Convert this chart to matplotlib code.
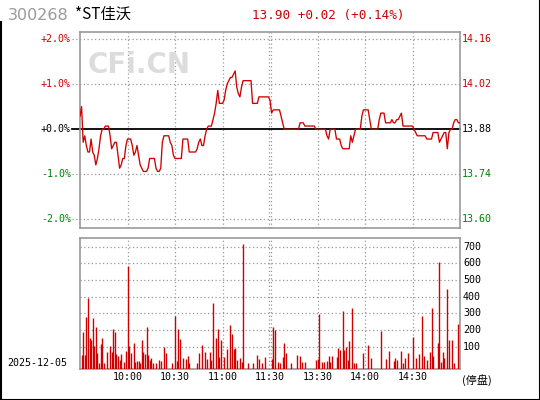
import numpy as np
import matplotlib.pyplot as plt
from matplotlib.lines import Line2D

# 分时数据 (每分钟价格, 9:30 起 241 个点)
prev_close = 13.88
prices = [
    13.92, 13.95, 13.84, 13.86, 13.83, 13.81, 13.81, 13.85, 13.81, 13.80,
    13.77, 13.79, 13.82, 13.86, 13.88, 13.88, 13.89, 13.89, 13.89, 13.86,
    13.82, 13.83, 13.84, 13.84, 13.80, 13.76, 13.77, 13.79, 13.79, 13.83,
    13.85, 13.85, 13.85, 13.83, 13.80, 13.81, 13.83, 13.80, 13.77, 13.76,
    13.75, 13.75, 13.75, 13.76, 13.79, 13.79, 13.79, 13.79, 13.76, 13.75,
    13.75, 13.76, 13.84, 13.86, 13.86, 13.86, 13.86, 13.84, 13.83, 13.80,
    13.79, 13.79, 13.79, 13.79, 13.79, 13.85, 13.85, 13.85, 13.85, 13.81,
    13.81, 13.81, 13.81, 13.81, 13.82, 13.84, 13.85, 13.83, 13.83, 13.86,
    13.88, 13.89, 13.89, 13.89, 13.91, 13.93, 13.96, 14.00, 13.96, 13.96,
    13.96, 13.97, 14.00, 14.02, 14.03, 14.04, 14.04, 14.05, 14.06, 14.01,
    13.99, 13.98, 14.01, 14.03, 14.03, 14.03, 14.03, 14.03, 14.03, 13.96,
    13.96, 13.96, 13.96, 13.98, 13.98, 13.98, 13.98, 13.98, 13.98, 13.98,
    13.97, 13.93, 13.94, 13.94, 13.94, 13.94, 13.94, 13.92, 13.90, 13.88,
    13.88, 13.88, 13.88, 13.88, 13.88, 13.88, 13.88, 13.88, 13.88, 13.90,
    13.90, 13.90, 13.89, 13.89, 13.89, 13.89, 13.89, 13.89, 13.89, 13.88,
    13.88, 13.88, 13.88, 13.88, 13.88, 13.88, 13.86, 13.85, 13.88, 13.88,
    13.88, 13.88, 13.85, 13.85, 13.85, 13.83, 13.82, 13.82, 13.82, 13.82,
    13.82, 13.86, 13.84, 13.86, 13.88, 13.88, 13.88, 13.88, 13.92, 13.94,
    13.94, 13.94, 13.94, 13.91, 13.88, 13.88, 13.88, 13.88, 13.88, 13.91,
    13.93, 13.93, 13.93, 13.90, 13.90, 13.90, 13.90, 13.91, 13.90, 13.90,
    13.91, 13.91, 13.92, 13.93, 13.89, 13.89, 13.89, 13.89, 13.89, 13.89,
    13.89, 13.88, 13.87, 13.86, 13.86, 13.86, 13.86, 13.86, 13.86, 13.85,
    13.85, 13.85, 13.85, 13.87, 13.87, 13.87, 13.87, 13.84, 13.85, 13.86,
    13.87, 13.87, 13.82, 13.87, 13.88, 13.88, 13.90, 13.91, 13.91, 13.90,
    13.90,
]

# 成交量 (分钟, 手)
vol_minutes = [1, 2, 3, 4, 5, 6, 7, 8, 9, 10, 11, 12, 13, 14, 15, 17, 19, 20, 21, 22,
               23, 24, 25, 26, 28, 29, 30, 31, 32, 34, 35, 36, 37, 38, 39, 40, 41, 42, 43, 44,
               45, 46, 48, 50, 51, 53, 54, 58, 60, 61, 62, 63, 65, 67, 68, 69, 74, 75, 77, 79,
               80, 82, 83, 84, 86, 87, 88, 89, 91, 93, 95, 96, 97, 98, 99, 101, 102, 103, 106, 109,
               112, 113, 115, 117, 121, 122, 123, 125, 126, 128, 129, 130, 133, 137, 139, 140, 142, 149, 150, 151,
               153, 154, 156, 157, 158, 159, 162, 163, 164, 166, 167, 168, 169, 170, 172, 173, 174, 179, 182, 184,
               190, 193, 195, 198, 199, 200, 203, 204, 205, 207, 210, 212, 214, 216, 217, 219, 221, 222, 223, 226,
               227, 228, 229, 230, 232, 233, 235, 236, 239]
vol_values = [50, 188, 50, 278, 392, 152, 140, 272, 104, 218, 62, 2, 116, 152, 2, 68, 104, 68, 206, 188,
              56, 44, 20, 56, 8, 74, 584, 104, 62, 122, 8, 14, 14, 2, 140, 68, 56, 218, 50, 20,
              32, 2, 2, 20, 14, 98, 62, 2, 284, 14, 206, 146, 32, 26, 44, 2, 2, 62, 110, 68,
              26, 68, 20, 362, 152, 206, 38, 140, 38, 86, 230, 176, 86, 92, 20, 32, 8, 716, 2, 2,
              50, 26, 2, 38, 26, 218, 200, 8, 2, 38, 122, 62, 2, 50, 44, 8, 8, 20, 26, 296,
              8, 8, 14, 44, 8, 44, 38, 92, 80, 314, 80, 98, 20, 134, 332, 2, 2, 62, 110, 32,
              194, 26, 74, 14, 32, 20, 74, 2, 32, 62, 158, 32, 56, 284, 44, 20, 68, 332, 44, 122,
              608, 8, 68, 32, 446, 140, 140, 2, 236]

pct_ticks = [2.0, 1.0, 0.0, -1.0, -2.0]
pct_labels = ['+2.0%', '+1.0%', '+0.0%', '-1.0%', '-2.0%']
price_labels = ['14.16', '14.02', '13.88', '13.74', '13.60']
label_colors = ['#cc0000', '#cc0000', 'black', '#008000', '#008000']
time_ticks = [30, 60, 90, 120, 150, 180, 210]
time_labels = ['10:00', '10:30', '11:00', '11:30', '13:30', '14:00', '14:30']
vol_ticks = [100, 200, 300, 400, 500, 600, 700]

red = '#d00000'
gray = '#999999'
mono = 'DejaVu Sans Mono'
cjk = ['Noto Sans CJK SC', 'DejaVu Sans']

W, H = 540, 400
fig = plt.figure(figsize=(W / 100, H / 100), dpi=100)


def fx(x):
    return x / W


def fy(y):
    return 1 - y / H


grid_x = [30, 60, 90, 119.5, 120.7, 150, 180, 210]

# 价格面板
ax = fig.add_axes([fx(80), fy(228), 380 / W, 196 / H])
minutes = np.arange(len(prices))
pct = (np.array(prices) - prev_close) / prev_close * 100
ax.set_xlim(0, 240)
ax.set_ylim(-2.193, 2.162)
for v in [2.0, 1.0, -1.0, -2.0]:
    ax.plot([-8 / 380, 1], [v, v], transform=ax.get_yaxis_transform(), clip_on=False,
            color=gray, lw=0.9, ls=(0, (1, 2)), zorder=1)
ax.plot([-8 / 380, 1], [0, 0], transform=ax.get_yaxis_transform(), clip_on=False,
        color='black', lw=1.3, zorder=2)
for t in grid_x:
    ax.axvline(t, color=gray, lw=0.9, ls=(0, (1, 2)), zorder=1)
ax.plot(minutes, pct, color=red, lw=0.95, zorder=3)
fig.text(fx(139), fy(65), 'CFi.CN', fontsize=20, fontweight='bold', color='#dcdcdc',
         ha='center', va='center', zorder=0)
ax.set_xticks([])
ax.set_yticks([])
for s in ax.spines.values():
    s.set_color(gray)
    s.set_linewidth(1.2)
for v, lab, c in zip(pct_ticks, pct_labels, label_colors):
    ax.text(-9 / 380, v, lab, transform=ax.get_yaxis_transform(), ha='right', va='center',
            color=c, fontsize=7.2, family=mono)
for v, lab, c in zip(pct_ticks, price_labels, label_colors):
    ax.text(1 + 2 / 380, v, lab, transform=ax.get_yaxis_transform(), ha='left', va='center',
            color=c, fontsize=7.2, family=mono)

# 成交量面板
ax2 = fig.add_axes([fx(80), fy(369.3), 380 / W, 131 / H])
ax2.set_xlim(0, 240)
ax2.set_ylim(-36, 750)
for v in vol_ticks:
    ax2.axhline(v, color=gray, lw=0.9, ls=(0, (1, 2)), zorder=1)
for t in grid_x:
    ax2.axvline(t, color=gray, lw=0.9, ls=(0, (1, 2)), zorder=1)
ax2.vlines(vol_minutes, -36, vol_values, color=red, lw=1.0, zorder=3)
ax2.set_xticks([])
ax2.set_yticks([])
for s in ax2.spines.values():
    s.set_color(gray)
    s.set_linewidth(1.2)
for v in vol_ticks:
    ax2.text(1 + 3 / 380, v, str(v), transform=ax2.get_yaxis_transform(), ha='left',
             va='center', color='black', fontsize=7.2, family=mono)
for t, lab in zip(time_ticks, time_labels):
    ax2.text(t, -0.06, lab, transform=ax2.get_xaxis_transform(), ha='center', va='center',
             color='black', fontsize=7.2, family=mono)

# 标题与文字
fig.text(fx(8), fy(16), '300268', fontsize=11.5, color='#9a9a9a', ha='left', va='center')
fig.text(fx(75), fy(14), '*ST佳沃', fontsize=11, color='black', ha='left', va='center',
         family=cjk)
fig.text(fx(252), fy(15), '13.90 +0.02 (+0.14%)', fontsize=9.1, color='#cc0000',
         ha='left', va='center', family=mono)
fig.text(fx(7), fy(363), '2025-12-05', fontsize=7.2, color='black', ha='left', va='center',
         family=mono)
fig.text(fx(462), fy(380), '(停盘)', fontsize=8, color='black', ha='left', va='center',
         family=cjk)

# 外框
fig.add_artist(Line2D([fx(0.5), fx(0.5)], [fy(22), 0], color='black', lw=1.5))
fig.add_artist(Line2D([fx(539.5), fx(539.5)], [1, 0], color='black', lw=1.5))
fig.add_artist(Line2D([0, 1], [fy(399.5), fy(399.5)], color='black', lw=1.5))

fig.savefig('out.png', dpi=100)
